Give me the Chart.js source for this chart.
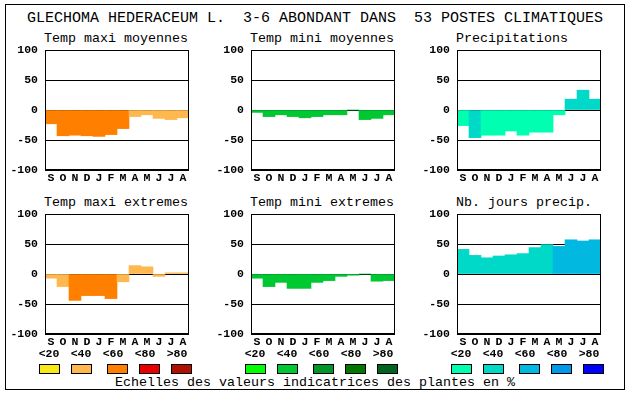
<!DOCTYPE html>
<html>
<head>
<meta charset="utf-8">
<script src="https://cdn.jsdelivr.net/npm/chart.js@4/dist/chart.umd.min.js"></script>
<style>
  html, body { margin: 0; padding: 0; background: #fff; }
  #page { position: relative; width: 630px; height: 394px; overflow: hidden; background: #fff; }
  #frame { position: absolute; left: 5px; top: 4px; width: 620px; height: 386px; border: 1px solid #000; box-sizing: border-box; }
  .txt { position: absolute; font-family: "Liberation Mono", "DejaVu Sans Mono", monospace; color: #000; white-space: pre; line-height: 1; }
  #title { left: 0; width: 630px; top: 11px; text-align: center; font-size: 15px; }
  .sub { font-size: 13.33px; }
  .lab { font-size: 11.5px; font-weight: bold; width: 30px; text-align: center; }
  #foot { left: 0; width: 630px; top: 376px; text-align: center; font-size: 13.33px; }
  .sw { position: absolute; width: 21px; height: 10px; border: 1px solid #000; box-sizing: border-box; }
  canvas { position: absolute; }
</style>
</head>
<body>
<div id="page">
  <div id="frame"></div>
  <div id="title" class="txt">GLECHOMA HEDERACEUM L.  3-6 ABONDANT DANS  53 POSTES CLIMATIQUES</div>
  <div id="foot" class="txt">Echelles des valeurs indicatrices des plantes en %</div>
</div>
<script>
// Donnees (ecarts en %, mois de septembre a aout)
const MONTHS = ['S', 'O', 'N', 'D', 'J', 'F', 'M', 'A', 'M', 'J', 'J', 'A'];
const CLASS_LABELS = ['<20', '<40', '<60', '<80', '>80'];
const Y_TICKS = [-100, -50, 0, 50, 100];

const maxiMoyVals = [-23, -43, -42, -43, -44, -41, -31, -11, -8, -14, -16, -13];
const maxiMoyCls = [2, 2, 2, 2, 2, 2, 2, 1, 1, 1, 1, 1];

const miniMoyVals = [-4, -11, -8, -11, -13, -11, -8, -8, 0, -16, -14, -8];
const miniMoyCls = [1, 1, 1, 1, 1, 1, 1, 1, 1, 1, 1, 1];

const precVals = [-26, -46, -42, -42, -35, -42, -37, -37, -8, 18, 33, 18];
const precCls = [0, 1, 0, 0, 0, 0, 0, 0, 0, 1, 1, 1];

const maxiExtVals = [-7, -21, -44, -36, -36, -41, -13, 14, 12, -4, 2, 2];
const maxiExtCls = [1, 1, 2, 2, 2, 2, 1, 1, 1, 1, 1, 1];

const miniExtVals = [-7, -21, -14, -24, -24, -14, -11, -4, -2, 0, -12, -11];
const miniExtCls = [1, 1, 1, 1, 1, 1, 1, 1, 1, 1, 1, 1];

const joursVals = [41, 31, 27, 30, 32, 34, 44, 49, 46, 57, 55, 57];
const joursCls = [1, 1, 1, 1, 1, 1, 1, 1, 2, 2, 2, 2];

// Palettes des classes d'abondance
const PAL_TMAX = ['#F8E818', '#FFB850', '#FF8000', '#E80000', '#B01000'];
const PAL_TMIN = ['#00FF00', '#00C832', '#009628', '#007800', '#006420'];
const PAL_PREC = ['#00FFB0', '#00D8C8', '#00B8E0', '#0098E8', '#0000FF'];

const FONT = '"Liberation Mono", "DejaVu Sans Mono", monospace';

const panels = [
  { title: 'Temp maxi moyennes', vals: maxiMoyVals, cls: maxiMoyCls, pal: PAL_TMAX, col: 0, row: 0 },
  { title: 'Temp mini moyennes', vals: miniMoyVals, cls: miniMoyCls, pal: PAL_TMIN, col: 1, row: 0 },
  { title: 'Precipitations', vals: precVals, cls: precCls, pal: PAL_PREC, col: 2, row: 0 },
  { title: 'Temp maxi extremes', vals: maxiExtVals, cls: maxiExtCls, pal: PAL_TMAX, col: 0, row: 1 },
  { title: 'Temp mini extremes', vals: miniExtVals, cls: miniExtCls, pal: PAL_TMIN, col: 1, row: 1 },
  { title: 'Nb. jours precip.', vals: joursVals, cls: joursCls, pal: PAL_PREC, col: 2, row: 1 }
];

// cadre noir autour de la zone de trace
const framePlugin = {
  id: 'plotFrame',
  afterDraw(chart) {
    const a = chart.chartArea;
    const ctx = chart.ctx;
    ctx.save();
    ctx.strokeStyle = '#000';
    ctx.lineWidth = 1;
    ctx.strokeRect(Math.round(a.left) + 0.5, Math.round(a.top) + 0.5,
      Math.round(a.right - a.left) - 1, Math.round(a.bottom - a.top) - 1);
    ctx.restore();
  }
};

const page = document.getElementById('page');

function addText(cls, text, left, top) {
  const d = document.createElement('div');
  d.className = 'txt ' + cls;
  d.textContent = text;
  d.style.left = left + 'px';
  d.style.top = top + 'px';
  page.appendChild(d);
  return d;
}

// marge du canvas au-dessus de la zone de trace (place pour le label "100")
const TOP_PAD = 8;

panels.forEach(p => {
  const plotLeft = 45 + p.col * 206;
  const plotTop = 50 + p.row * 164;

  addText('sub', p.title, plotLeft - 1, plotTop - 18);

  const canvas = document.createElement('canvas');
  canvas.width = 186;
  canvas.height = TOP_PAD + 120 + 16;
  canvas.style.left = (plotLeft - 40) + 'px';
  canvas.style.top = (plotTop - TOP_PAD) + 'px';
  page.appendChild(canvas);

  new Chart(canvas.getContext('2d'), {
    type: 'bar',
    data: {
      labels: MONTHS,
      datasets: [{
        data: p.vals,
        backgroundColor: p.cls.map(c => p.pal[c]),
        borderWidth: 0,
        barPercentage: 1,
        categoryPercentage: 1
      }]
    },
    options: {
      responsive: false,
      animation: false,
      devicePixelRatio: 1,
      layout: { padding: { top: TOP_PAD, right: 2, left: 0, bottom: 0 } },
      plugins: { legend: { display: false }, tooltip: { enabled: false } },
      scales: {
        x: {
          grid: { display: false, drawTicks: false },
          border: { display: false },
          ticks: { color: '#000', font: { family: FONT, size: 11.5, weight: 'bold' }, padding: 1, maxRotation: 0, autoSkip: false },
          afterFit(s) {
            s.height = 16;
            s.paddingLeft = 0; s.paddingRight = 0;
          }
        },
        y: {
          min: -100,
          max: 100,
          afterBuildTicks(s) { s.ticks = Y_TICKS.map(v => ({ value: v })); },
          grid: { color: '#000', lineWidth: 1, drawTicks: false },
          border: { display: false },
          ticks: { color: '#000', font: { family: FONT, size: 11.5, weight: 'bold' }, padding: 7 },
          z: 1,
          afterFit(s) {
            s.width = 40;
            s.paddingTop = 0; s.paddingBottom = 0;
          }
        }
      }
    },
    plugins: [framePlugin]
  });

  // legende des classes sous les panneaux du bas
  if (p.row === 1) {
    const swOffsets = [-6, 26, 62, 94, 126];
    CLASS_LABELS.forEach((lab, i) => {
      addText('lab', lab, plotLeft + 4 + i * 32 - 15, 348);
      const sw = document.createElement('div');
      sw.className = 'sw';
      sw.style.left = (plotLeft + swOffsets[i]) + 'px';
      sw.style.top = '364px';
      sw.style.background = p.pal[i];
      page.appendChild(sw);
    });
  }
});
</script>
</body>
</html>
